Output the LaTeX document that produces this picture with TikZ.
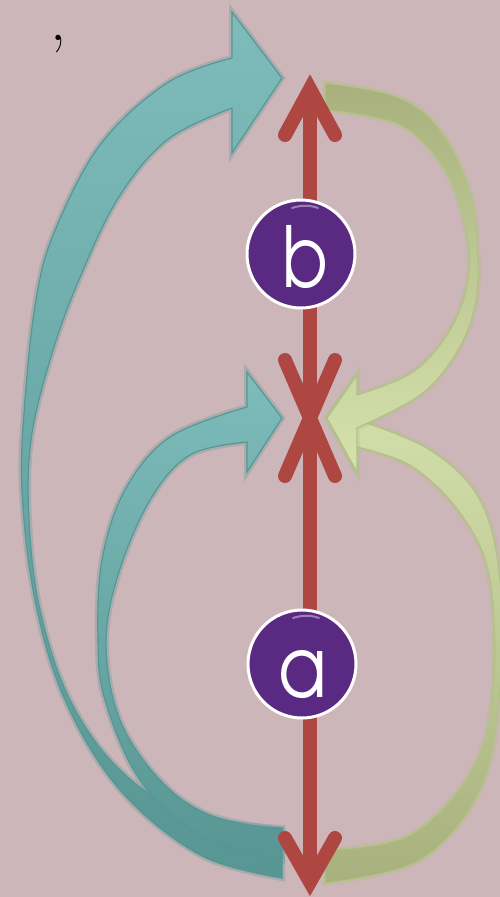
\documentclass[tikz,border=0pt]{standalone}
\usepackage{fontspec}
\newfontfamily\letterfont{TeX Gyre Adventor}
\usetikzlibrary{calc}
\definecolor{bg}{RGB}{205,182,185}
\definecolor{redc}{RGB}{174,70,66}
\definecolor{purp}{RGB}{90,42,130}
\definecolor{tealtop}{RGB}{126,188,187}
\definecolor{tealmid}{RGB}{158,210,209}
\definecolor{tealbot}{RGB}{88,150,148}
\definecolor{tealline}{RGB}{86,150,148}
\definecolor{greendark}{RGB}{168,177,126}
\definecolor{greenlight}{RGB}{214,226,174}
\definecolor{greenline}{RGB}{176,194,132}
\begin{document}
\begin{tikzpicture}[x=1pt,y=-1pt,
  redline/.style={draw=redc, line width=14pt, line cap=round, line join=miter, miter limit=10},
  redshaft/.style={draw=redc, line width=14pt, line cap=butt},
  tealarrow/.style={draw=tealline, line width=1.2pt, top color=tealtop, middle color=tealmid, bottom color=tealbot,
    preaction={draw=tealline, line width=6pt, opacity=0.3}},
  greenarrowdown/.style={draw=greenline, line width=1.2pt, top color=greendark, bottom color=greenlight,
    preaction={draw=greenline, line width=6pt, opacity=0.3}},
  greenarrowup/.style={draw=greenline, line width=1.2pt, top color=greenlight, bottom color=greendark,
    preaction={draw=greenline, line width=6pt, opacity=0.3}},
  badge/.style={circle, fill=purp, draw=white, line width=3pt, minimum size=108pt, inner sep=0pt},
  letter/.style={text=white, font=\letterfont\fontsize{84}{90}\selectfont, inner sep=0pt, anchor=base}
]
\fill[bg] (0,0) rectangle (500,897);
\useasboundingbox (0,0) rectangle (500,897);

% comma
\node[anchor=base, inner sep=0pt, font=\fontsize{64}{66}\selectfont] (comma) at (58,40) {,};

% teal outer arrow (bottom -> top)
\path[tealarrow] plot[smooth, tension=0.6] coordinates {(282,878) (200,855) (120,790) (65,700) (35,600) (22,490) (25,400) (36,300) (54,233) (100,145) (167,83) (232,58)}
  -- (232,12) -- (282,78) -- (232,153) -- (232,108)
  -- plot[smooth, tension=0.6] coordinates {(232,108) (167,140) (117,200) (76,287) (50,360) (31,440) (29,520) (40,610) (70,700) (120,770) (190,815) (282,828)}
  -- cycle;

% teal inner arrow (bottom -> middle)
\path[tealarrow] plot[smooth, tension=0.6] coordinates {(282,860) (200,835) (140,780) (105,700) (98,640) (102,560) (125,490) (170,437) (247,407)}
  -- (247,372) -- (282,418) -- (247,472) -- (247,442)
  -- plot[smooth, tension=0.6] coordinates {(247,442) (190,455) (150,500) (118,575) (106,645) (120,720) (160,780) (210,815) (282,830)}
  -- cycle;

% green lower arrow (bottom -> middle)
\path[greenarrowup] plot[smooth, tension=0.6] coordinates {(325,883) (420,860) (480,790) (500,690) (500,580) (480,500) (430,450) (357,420)}
  -- (357,375) -- (327,418) -- (357,472) -- (357,447)
  -- plot[smooth, tension=0.6] coordinates {(357,447) (413,467) (463,517) (490,580) (493,690) (472,770) (410,835) (325,850)}
  -- cycle;

% green upper arrow (top -> middle)
\path[greenarrowdown] plot[smooth, tension=0.6] coordinates {(325,83) (397,97) (440,130) (470,193) (478,260) (474,310) (455,355) (420,395) (357,428)}
  -- (357,472) -- (327,418) -- (357,375) -- (357,395)
  -- plot[smooth, tension=0.6] coordinates {(357,395) (413,372) (450,330) (468,280) (466,230) (445,170) (400,125) (325,110)}
  -- cycle;

% red double arrows
\coordinate (top) at (310,89);
\coordinate (mid) at (310,418);
\coordinate (bot) at (310,882);
\draw[redshaft] (top) -- (mid);
\draw[redshaft] (mid) -- (bot);
\draw[redline] ($(top)+(-25,46)$) -- (top) -- ($(top)+(25,46)$);
\draw[redline, line join=round] ($(mid)+(-25,-58)$) -- (mid) -- ($(mid)+(25,-58)$);
\draw[redline, line join=round] ($(mid)+(-25,58)$) -- (mid) -- ($(mid)+(25,58)$);
\draw[redline] ($(bot)+(-25,-44)$) -- (bot) -- ($(bot)+(25,-44)$);

% badges
\node[badge] (b) at (301,254) {};
\node[badge] (a) at (302,664) {};
\draw[white, opacity=0.4, line width=2pt, line cap=round] (292,208) .. controls (301,205) and (310,205) .. (318,208);
\draw[white, opacity=0.4, line width=2pt, line cap=round] (293,618) .. controls (302,615) and (311,615) .. (319,618);
\node[letter] (blab) at (305,287) {\scalebox{0.8}[1]{b}};
\node[letter] (alab) at (303,697) {\scalebox{0.85}[1]{a}};
\end{tikzpicture}
\end{document}
